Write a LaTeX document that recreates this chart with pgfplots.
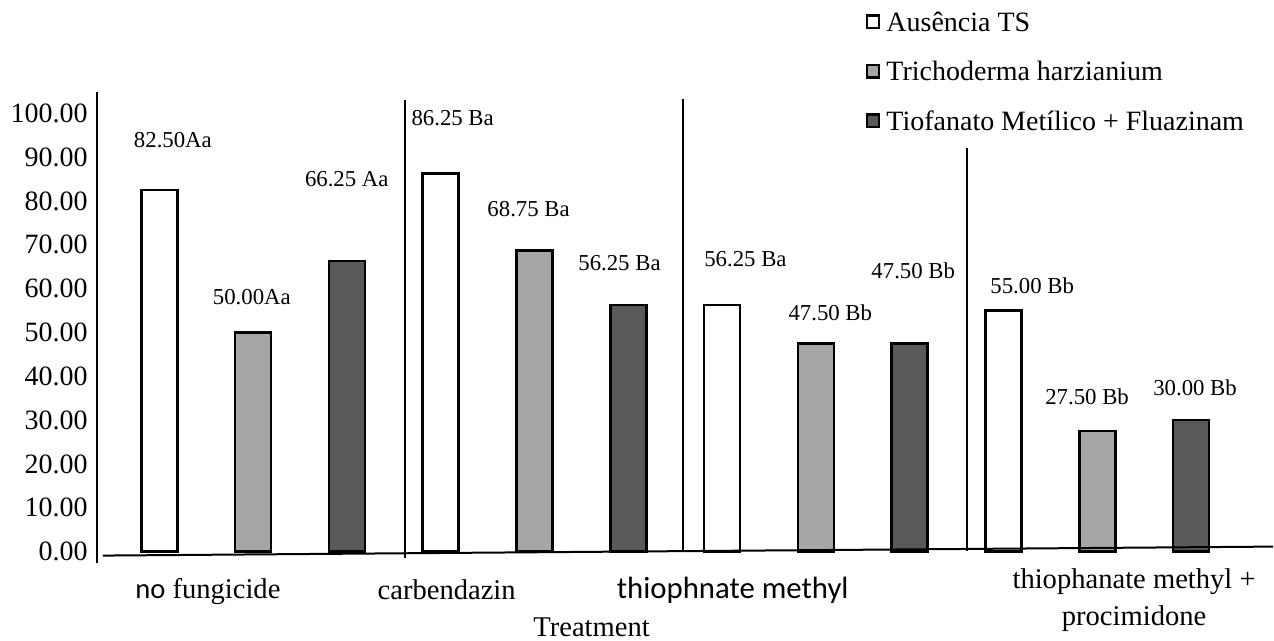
\documentclass[border=0pt]{standalone}
\usepackage{fontspec}
\setmainfont{Liberation Serif}
\setsansfont{Carlito}
\usepackage{pgfplots}
\pgfplotsset{compat=1.18}
\definecolor{lgray}{HTML}{A6A6A6}
\definecolor{dgray}{HTML}{595959}
\newcommand\vfont{\fontsize{11.4}{13}\selectfont}
\newcommand\cfont{\fontsize{14.3}{17}\selectfont}
\begin{document}
\begin{tikzpicture}
\path (0,0) rectangle (637pt,320.5pt);
\begin{axis}[
  at={(48.5pt,37.9pt)}, anchor=south west,
  scale only axis, width=588.5pt, height=236.9pt,
  xmin=0.334, xmax=12.874, ymin=-3, ymax=105,
  axis line style={draw=none},
  xtick=\empty,
  ytick={0,10,...,100},
  major tick length=0pt,
  scaled y ticks=false,
  yticklabel style={anchor=east, inner sep=0pt, xshift=-4.5pt, font=\fontsize{14}{16}\selectfont,
    /pgf/number format/.cd, fixed, fixed zerofill, precision=2, assume math mode=true},
  ybar, bar width=18pt, bar shift=0pt,
  clip=false,
  legend style={at={(axis cs:8.53,123.3)}, anchor=north west, draw=none, fill=none,
    inner sep=0pt, outer sep=0pt, row sep=11.75pt, column sep=3pt,
    font=\fontsize{14}{16}\selectfont,
    nodes={inner sep=0pt, text height=10pt, text depth=3pt}},
  legend cell align=left,
  legend image code/.code={\draw[#1, line width=1.2pt] (0pt,-1.9pt) rectangle (6.25pt,4.35pt);},
]
\addplot[fill=white, draw=black, line width=1.3pt] coordinates {(1,82.5) (4,86.25) (7,56.25) (10,55)};
\addplot[fill=lgray, draw=black, line width=1.3pt] coordinates {(2,50) (5,68.75) (8,47.5) (11,27.5)};
\addplot[fill=dgray, draw=black, line width=1.3pt] coordinates {(3,66.25) (6,56.25) (9,47.5) (12,30)};
\legend{Ausência TS, Trichoderma harzianium, Tiofanato Metílico + Fluazinam}

\draw[line width=1pt] (axis cs:0.334,-2.5) -- (axis cs:0.334,104.9);
\draw[line width=1pt] (axis cs:0.398,-0.91) -- (axis cs:12.874,1.14);
\draw[line width=1pt] (axis cs:3.616,-1.5) -- (axis cs:3.616,103.0);
\draw[line width=1pt] (axis cs:6.578,0.2) -- (axis cs:6.578,103.3);
\draw[line width=1pt] (axis cs:9.614,0.2) -- (axis cs:9.614,92.1);

\node[font=\vfont] at (axis cs:1.144,93.9) {82.50Aa};
\node[font=\vfont] at (axis cs:1.986,58.1) {50.00Aa};
\node[font=\vfont] at (axis cs:2.998,85.0) {66.25 Aa};
\node[font=\vfont] at (axis cs:4.127,98.9) {86.25 Ba};
\node[font=\vfont] at (axis cs:4.937,78.2) {68.75 Ba};
\node[font=\vfont] at (axis cs:5.906,65.9) {56.25 Ba};
\node[font=\vfont] at (axis cs:7.249,66.8) {56.25 Ba};
\node[font=\vfont] at (axis cs:8.154,54.5) {47.50 Bb};
\node[font=\vfont] at (axis cs:9.038,64.1) {47.50 Bb};
\node[font=\vfont] at (axis cs:10.306,60.6) {55.00 Bb};
\node[font=\vfont] at (axis cs:10.892,35.3) {27.50 Bb};
\node[font=\vfont] at (axis cs:12.043,37.4) {30.00 Bb};

\node[font=\cfont, anchor=base west, inner sep=0pt] at (axis cs:0.739,-10.8) {{\sffamily no} fungicide};
\node[font=\cfont, anchor=base, inner sep=0pt] at (axis cs:4.063,-10.9) {carbendazin};
\node[font=\fontsize{15.4}{18}\selectfont\sffamily, anchor=base west, inner sep=0pt] at (axis cs:5.874,-10.8) {thiophnate methyl};
\node[font=\cfont, anchor=base, inner sep=0pt] at (axis cs:11.393,-8.5) {thiophanate methyl +};
\node[font=\cfont, anchor=base, inner sep=0pt] at (axis cs:11.393,-16.9) {procimidone};
\node[font=\cfont, anchor=base, inner sep=0pt] at (axis cs:5.608,-19.3) {Treatment};
\end{axis}
\end{tikzpicture}
\end{document}
